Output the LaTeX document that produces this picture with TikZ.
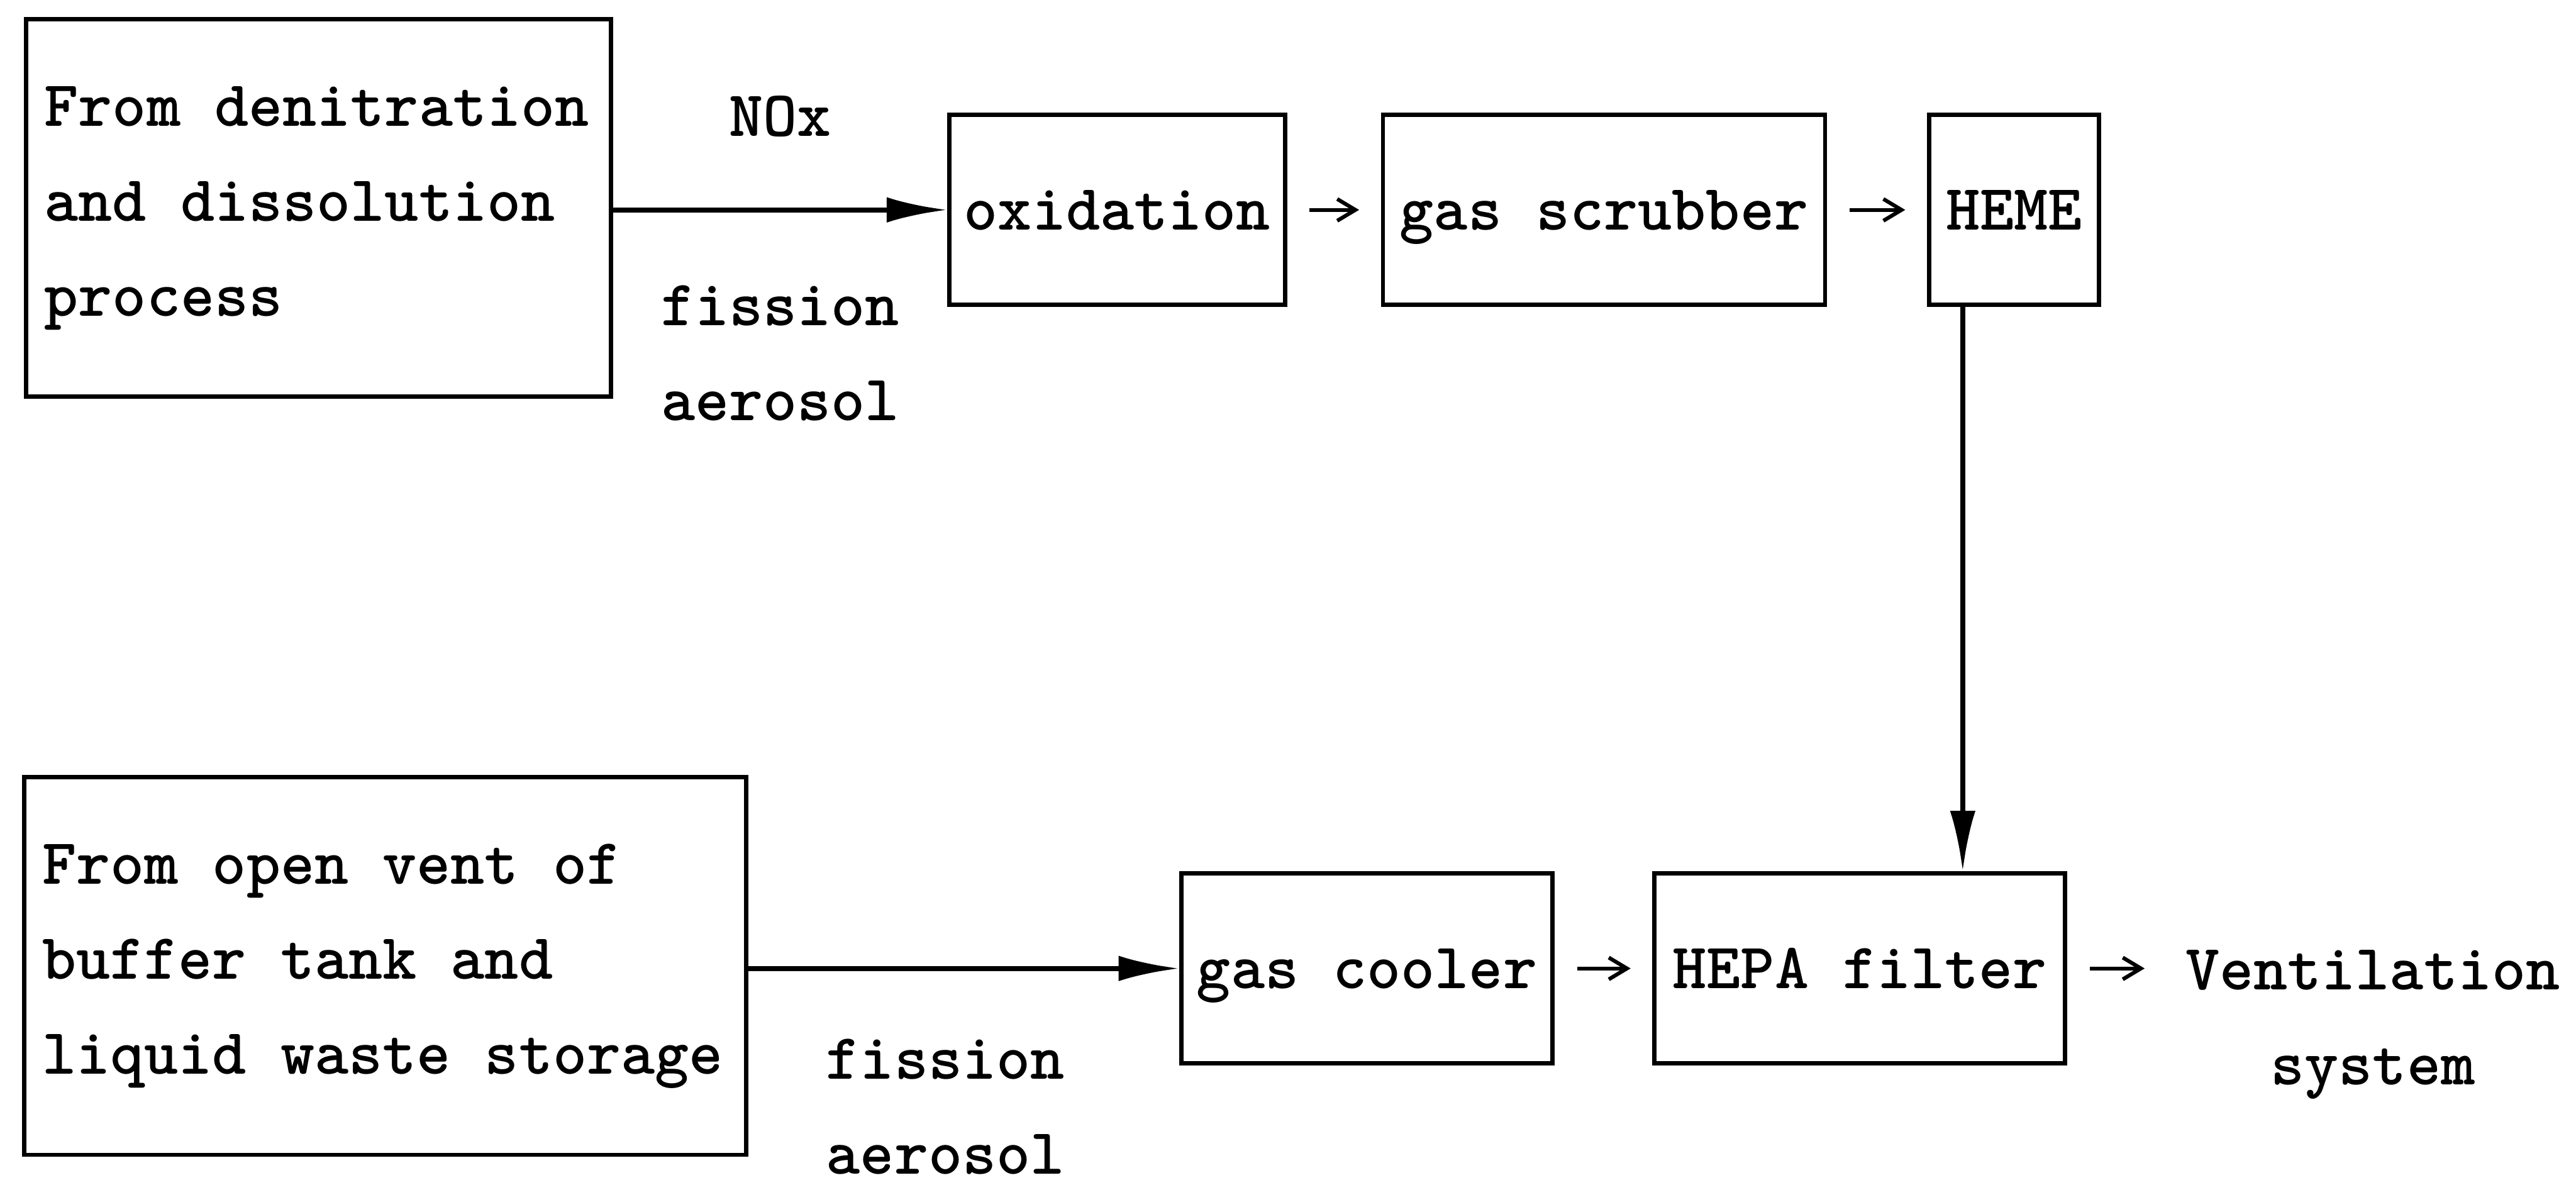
\documentclass[tikz,border=0pt]{standalone}
\usepackage{tikz}
\usetikzlibrary{arrows.meta,calc,positioning}
\newcommand{\flowfont}{\fontsize{30.5}{44.7}\selectfont\ttfamily\bfseries}
\tikzset{
  srcbox/.style   = {draw, line width=2pt, align=flush left, inner xsep=0.3cm,
                     minimum height=6.24cm, font=\flowfont},
  unitbox/.style  = {draw, line width=2pt, inner sep=0pt, minimum height=3.14cm,
                     text height=18.6pt, text depth=0pt, font=\flowfont},
  flowtext/.style = {inner sep=0pt, align=center, font=\flowfont},
  feed/.style     = {-{Latex[length=1.0cm,width=0.42cm]}, line width=2.4pt},
  pass/.style     = {-{Straight Barb[length=0.3cm,width=0.36cm]}, line width=1.8pt,
                     shorten <=0.37cm, shorten >=0.36cm},
}

\begin{document}
\begin{tikzpicture}
  \useasboundingbox (0,0) rectangle (42.59,19.58);

  % ---- off-gas from denitration ------------------------------------------
  \node[srcbox, text width=9.07cm] (denit) at (5.27,16.14)
      {From denitration\\and dissolution\\process};
  \node[unitbox, minimum width=5.55cm] (oxid)  at (18.47,16.11) {oxidation};
  \node[unitbox, minimum width=7.31cm] (scrub) at (26.52,16.11) {gas scrubber};
  \node[unitbox, minimum width=2.81cm] (heme)  at (33.30,16.11) {HEME};
  \node[flowtext, anchor=base] (nox) at (12.90,17.33) {NOx};
  \node[flowtext] (aero1) at (12.90,13.74) {fission\\aerosol};

  \draw[feed] (denit.east |- oxid) -- (oxid.west);
  \draw[pass] (oxid) -- (scrub);
  \draw[pass] (scrub) -- (heme);

  % ---- off-gas from buffer tank ------------------------------------------
  \node[srcbox, text width=11.34cm] (buffer) at (6.37,3.61)
      {From open vent of\\buffer tank and\\liquid waste storage};
  \node[unitbox, minimum width=6.14cm] (cooler) at (22.60,3.57) {gas cooler};
  \node[unitbox, minimum width=6.79cm] (hepa)   at (30.75,3.57) {HEPA filter};
  \node[flowtext] (aero2) at (15.63,1.28) {fission\\aerosol};
  \node[flowtext] (vent)  at (39.23,2.64) {Ventilation\\system};

  \draw[feed] (buffer.east |- cooler) -- (cooler.west);
  \draw[pass] (cooler) -- (hepa);
  \draw[pass, shorten >=0.67cm] (hepa.east) -- (hepa.east -| vent.west);

  % ---- HEME down to HEPA -------------------------------------------------
  \coordinate (drop) at ([xshift=-0.85cm]heme.south);
  \draw[feed] (drop) -- (drop |- hepa.north);
\end{tikzpicture}
\end{document}
